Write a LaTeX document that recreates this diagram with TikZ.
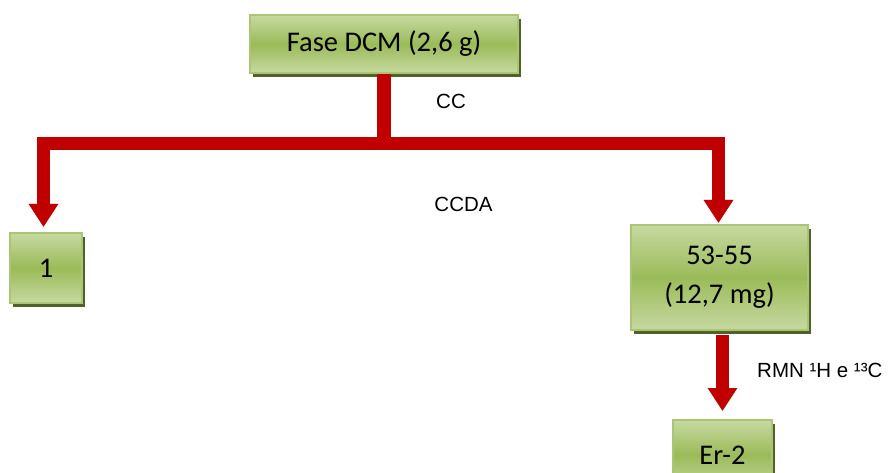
\documentclass[tikz,border=0pt]{standalone}
\usepackage{fontspec}
\newfontfamily\boxfont{Carlito}
\newfontfamily\labfont{Liberation Sans}
\usetikzlibrary{arrows.meta,shadows}
\definecolor{redarrow}{HTML}{C00000}
\definecolor{lightgr}{HTML}{C6D9A0}
\definecolor{midgr}{HTML}{9BBB59}
\definecolor{bordgr}{HTML}{AAC574}
\definecolor{shadgr}{HTML}{4F6228}
\definecolor{arrshad}{HTML}{A8A8A0}
\tikzset{
  greenbox/.style={draw=bordgr, line width=2pt, top color=lightgr, bottom color=lightgr, middle color=midgr,
    inner sep=0pt, align=center, font=\boxfont\fontsize{28.5}{39}\selectfont,
    drop shadow={shadow xshift=3pt, shadow yshift=-4pt, fill=shadgr, opacity=1}},
  redline/.style={draw=redarrow, line width=13.5pt, line join=miter, line cap=butt},
  redtip/.style={redline, -{Triangle[width=28pt,length=23pt]}},
  shadline/.style={draw=arrshad, line width=13.5pt, line join=miter, line cap=butt},
  shadtip/.style={shadline, -{Triangle[width=28pt,length=23pt]}},
  lab/.style={font=\labfont\fontsize{20.5}{24}\selectfont, inner sep=0pt}
}
\begin{document}
\begin{tikzpicture}[x=1pt,y=-1pt]
\useasboundingbox (0,0) rectangle (891,473);
\fill[white] (0,0) rectangle (891,473);
% boxes
\node[greenbox, minimum width=268pt, minimum height=58pt] (top) at (384,44) {Fase DCM (2,6 g)};
\node[greenbox, minimum width=72pt, minimum height=70pt] (b1) at (46,268) {1};
\node[greenbox, minimum width=177pt, minimum height=105pt] (b2) at (719.5,277.5) {53-55\\(12,7 mg)};
\node[greenbox, minimum width=99pt, minimum height=70pt] (er) at (722.5,455) {};
\node[font=\boxfont\fontsize{28.5}{39}\selectfont, inner sep=0pt] (ertxt) at (722.5,455) {Er-2};
% junction
\coordinate (j) at (384,143.5);
\coordinate (jb) at (384,150);
\coordinate (t1) at ([xshift=-2.5pt,yshift=5pt]b1.north);
\coordinate (t2) at ([xshift=-1pt,yshift=1pt]b2.north);
\coordinate (s3) at ([yshift=-4pt]er.north |- b2.south);
\coordinate (t3) at ([yshift=8pt]er.north);
% arrow shadows
\begin{scope}[xshift=2pt,yshift=-1.5pt]
\draw[shadtip] (j) -| (t1);
\draw[shadtip] (j) -| (t2);
\draw[shadtip] (s3) -- (t3);
\end{scope}
% arrows
\draw[redline] (top.south) -- (jb);
\draw[redtip] (j) -| (t1);
\draw[redtip] (j) -| (t2);
\draw[redtip] (s3) -- (t3);
% labels
\node[lab] (cc) at (451,101) {CC};
\node[lab] (ccda) at (463.5,204.5) {CCDA};
\node[lab, anchor=west] (rmn) at (757,370) {RMN ¹H e ¹³C};
\end{tikzpicture}
\end{document}
